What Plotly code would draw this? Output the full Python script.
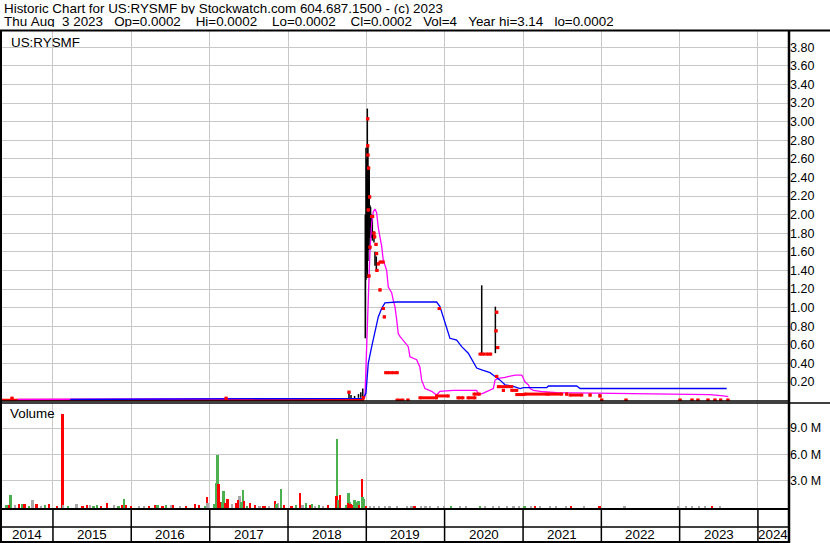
import plotly.graph_objects as go
import pandas as pd

# ---------------- data ----------------
# daily high/low bars (decimal year, high, low)
bar_year = [2017.209, 2018.779, 2018.805, 2018.850, 2018.900, 2018.930, 2018.955,
            2018.987, 2018.996, 2019.004, 2019.013, 2019.021, 2019.030, 2019.038,
            2019.047, 2019.055, 2019.064, 2019.077, 2019.098, 2019.111, 2019.128,
            2020.473, 2020.647, 2021.975]
bar_high = [0.03, 0.10, 0.06, 0.05, 0.07, 0.09, 0.13,
            2.00, 2.72, 2.60, 3.14, 2.75, 2.52, 2.50,
            2.10, 2.08, 2.00, 1.98, 1.82, 1.60, 1.55,
            1.24, 1.01, 0.07]
bar_low = [0.01, 0.02, 0.02, 0.02, 0.03, 0.03, 0.02,
           0.67, 1.30, 1.40, 1.32, 1.50, 1.62, 1.75,
           1.62, 1.75, 1.75, 1.72, 1.70, 1.45, 1.40,
           0.51, 0.51, 0.04]

# flat close before the 2019 run-up
flat_close_year = [2014.349, 2018.970]
flat_close_value = 0.006

# closes: (first year, last year, value) - equal years = single day
close_start = [2014.477, 2017.209, 2018.779, 2018.962,
               2019.018, 2019.018, 2019.021, 2019.030, 2019.043, 2019.025, 2019.069,
               2019.081, 2019.098, 2019.107, 2019.124, 2019.047, 2019.132, 2019.153,
               2019.175, 2019.136, 2019.034, 2019.175, 2019.217, 2019.230, 2019.247,
               2019.324, 2019.392, 2019.532, 2019.685, 2019.898, 2019.932, 2020.170,
               2020.298, 2020.375, 2020.451, 2020.537, 2020.664, 2020.655, 2020.677,
               2020.664, 2020.685, 2020.749, 2020.856, 2020.920, 2021.026, 2021.324,
               2021.557, 2021.600, 2021.856, 2021.983, 2022.005, 2022.315, 2023.005,
               2023.158, 2023.234, 2023.362, 2023.451, 2023.524, 2023.617]
close_end = [2014.477, 2017.209, 2018.779, 2018.962,
             2019.018, 2019.018, 2019.021, 2019.030, 2019.043, 2019.025, 2019.069,
             2019.081, 2019.098, 2019.107, 2019.124, 2019.047, 2019.132, 2019.153,
             2019.217, 2019.136, 2019.034, 2019.175, 2019.217, 2019.230, 2019.293,
             2019.396, 2019.468, 2019.532, 2019.898, 2020.047, 2019.932, 2020.234,
             2020.387, 2020.442, 2020.502, 2020.588, 2020.664, 2020.655, 2020.677,
             2020.664, 2020.856, 2020.749, 2020.920, 2021.004, 2021.303, 2021.494,
             2021.557, 2021.750, 2021.856, 2021.983, 2022.005, 2022.315, 2023.005,
             2023.158, 2023.234, 2023.362, 2023.451, 2023.524, 2023.617]
close_value = [0.025, 0.025, 0.09, 0.03,
               3.03, 2.74, 2.64, 2.50, 2.19, 2.05, 1.98,
               1.98, 1.80, 1.76, 1.68, 1.65, 1.58, 1.47,
               1.49, 1.40, 1.34, 1.19, 0.99, 0.90, 0.30,
               0.30, 0.005, 0.005, 0.03, 0.05, 0.99, 0.03,
               0.03, 0.07, 0.50, 0.50, 0.95, 0.75, 0.57,
               0.26, 0.15, 0.11, 0.11, 0.065, 0.07, 0.07,
               0.07, 0.06, 0.06, 0.05, 0.005, 0.005, 0.005,
               0.005, 0.005, 0.005, 0.005, 0.005, 0.005]

# short moving average (magenta)
pink_year = [2014.55, 2018.960, 2018.983, 2019.005, 2019.025, 2019.047, 2019.069, 2019.089,
             2019.111, 2019.132, 2019.153, 2019.175, 2019.196, 2019.217, 2019.260,
             2019.281, 2019.324, 2019.344, 2019.366, 2019.388, 2019.408, 2019.430,
             2019.472, 2019.536, 2019.558, 2019.643, 2019.685, 2019.707, 2019.749,
             2019.835, 2019.898, 2019.941, 2020.111, 2020.409, 2020.430, 2020.494,
             2020.621, 2020.643, 2020.685, 2020.770, 2020.898, 2020.984, 2021.026,
             2021.068, 2021.090, 2021.132, 2021.260, 2021.430, 2022.153, 2023.388,
             2023.557, 2023.621]
pink_value = [0.012, 0.025, 0.04, 0.62, 1.22, 1.62, 1.91, 2.03,
              2.06, 2.02, 1.86, 1.76, 1.66, 1.51, 1.40,
              1.22, 1.16, 1.08, 1.01, 0.87, 0.72, 0.69,
              0.65, 0.58, 0.47, 0.44, 0.36, 0.22, 0.13,
              0.10, 0.06, 0.10, 0.11, 0.11, 0.06, 0.08,
              0.13, 0.22, 0.24, 0.25, 0.275, 0.275, 0.20,
              0.17, 0.13, 0.11, 0.095, 0.085, 0.078, 0.064,
              0.05, 0.042]

# long moving average (blue)
blue_year = [2015.22, 2018.962, 2018.996, 2019.025, 2019.069, 2019.111, 2019.153,
             2019.196, 2019.238, 2019.388, 2019.898, 2019.941, 2019.983, 2020.026,
             2020.068, 2020.154, 2020.218, 2020.302, 2020.366, 2020.409, 2020.473,
             2020.537, 2020.579, 2020.643, 2020.707, 2020.770, 2020.856, 2020.962,
             2021.004, 2021.303, 2021.324, 2021.686, 2021.728, 2023.601]
blue_value = [0.012, 0.025, 0.08, 0.40, 0.58, 0.76, 0.90,
              0.99, 1.05, 1.06, 1.06, 1.01, 0.90, 0.79,
              0.67, 0.65, 0.58, 0.51, 0.42, 0.35, 0.33,
              0.31, 0.30, 0.26, 0.22, 0.17, 0.157, 0.13,
              0.14, 0.14, 0.157, 0.157, 0.13, 0.13]

# volume (decimal year, millions of shares, u=up d=down f=unchanged), 8 per row
vol_year = [2014.409, 2014.440, 2014.460, 2014.515, 2014.570, 2014.613, 2014.639, 2014.700,
            2014.741, 2014.792, 2014.850, 2014.898, 2014.953, 2015.050, 2015.124, 2015.131,
            2015.200, 2015.303, 2015.380, 2015.438, 2015.472, 2015.520, 2015.566, 2015.620,
            2015.698, 2015.783, 2015.840, 2015.881, 2015.915, 2015.932, 2016.000, 2016.100,
            2016.162, 2016.230, 2016.302, 2016.337, 2016.400, 2016.443, 2016.515, 2016.536,
            2016.620, 2016.700, 2016.813, 2016.868, 2016.941, 2016.966, 2016.975, 2017.055,
            2017.090, 2017.103, 2017.115, 2017.141, 2017.161, 2017.179, 2017.205, 2017.230,
            2017.289, 2017.345, 2017.362, 2017.384, 2017.400, 2017.426, 2017.442, 2017.480,
            2017.515, 2017.579, 2017.640, 2017.685, 2017.707, 2017.760, 2017.834, 2017.856,
            2017.876, 2017.911, 2017.949, 2018.047, 2018.102, 2018.153, 2018.188, 2018.230,
            2018.281, 2018.307, 2018.345, 2018.396, 2018.450, 2018.511, 2018.622, 2018.626,
            2018.638, 2018.664, 2018.741, 2018.770, 2018.775, 2018.788, 2018.801, 2018.817,
            2018.852, 2018.872, 2018.903, 2018.910, 2018.945, 2018.954, 2018.970, 2018.996,
            2019.05, 2019.10, 2019.17, 2019.24, 2019.30, 2019.40, 2019.52, 2019.58,
            2019.62, 2019.70, 2019.76, 2019.82, 2019.92, 2020.00, 2020.08, 2020.20,
            2020.28, 2020.45, 2020.52, 2020.62, 2020.70, 2020.80, 2020.88, 2020.95,
            2021.02, 2021.10, 2021.16, 2021.22, 2021.35, 2021.42, 2021.55, 2021.62,
            2021.78, 2021.98, 2022.30, 2022.98, 2023.08, 2023.16, 2023.25, 2023.33,
            2023.42, 2023.52]
vol_m = [0.20, 0.15, 1.32, 0.12, 0.25, 0.32, 0.25, 0.10,
         0.75, 0.28, 0.08, 0.17, 0.28, 0.06, 10.6, 0.12,
         0.06, 0.28, 0.08, 0.12, 0.12, 0.08, 0.22, 0.08,
         0.35, 0.12, 0.06, 0.18, 0.86, 0.15, 0.08, 0.05,
         0.08, 0.06, 0.12, 0.22, 0.06, 0.12, 0.22, 0.12,
         0.06, 0.08, 0.25, 0.12, 0.10, 1.09, 0.45, 0.31,
         2.70, 5.91, 2.58, 0.55, 0.50, 1.78, 0.40, 0.86,
         0.31, 0.45, 0.78, 1.20, 0.50, 1.85, 0.60, 0.10,
         0.40, 0.12, 0.06, 0.10, 0.08, 0.06, 0.63, 0.25,
         0.40, 2.00, 0.12, 0.10, 0.20, 1.55, 0.20, 0.40,
         0.20, 0.28, 0.10, 0.12, 0.06, 0.12, 1.17, 7.74,
         0.75, 1.29, 0.20, 0.40, 1.55, 0.55, 0.30, 0.12,
         0.75, 0.50, 0.63, 0.12, 3.15, 1.09, 0.86, 0.06,
         0.06, 0.05, 0.06, 0.05, 0.06, 0.05, 0.06, 0.05,
         0.06, 0.05, 0.06, 0.05, 0.06, 0.05, 0.06, 0.05,
         0.06, 0.05, 0.06, 0.05, 0.06, 0.05, 0.06, 0.05,
         0.06, 0.05, 0.06, 0.05, 0.06, 0.05, 0.06, 0.05,
         0.06, 0.05, 0.05, 0.05, 0.06, 0.05, 0.06, 0.05,
         0.06, 0.05]
vol_dir = list("uduf" "dudu" "fdfu" "dddf"
               "ufdd" "fuud" "dfud" "uddf"
               "fddu" "dufd" "fddd" "udfu"
               "uudd" "uudd" "fddf" "uudu"
               "ddfd" "dfdu" "fudd" "udfu"
               "dufu" "fddu" "udud" "uudd"
               "uuud" "duud" "ffff" "ffff"
               "dfff" "ffuf" "fuff" "ffff"
               "ufdf" "fffd" "fdff" "ffff"
               "df")

price_ticks = [0.20, 0.40, 0.60, 0.80, 1.00, 1.20, 1.40, 1.60, 1.80, 2.00,
               2.20, 2.40, 2.60, 2.80, 3.00, 3.20, 3.40, 3.60, 3.80]
vol_ticks = [3e6, 6e6, 9e6]
vol_tick_text = ["3.0 M", "6.0 M", "9.0 M"]
years = list(range(2014, 2025))

header1 = "Historic Chart for US:RYSMF by Stockwatch.com 604.687.1500 - (c) 2023"
header2 = ("Thu Aug  3 2023   Op=0.0002    Hi=0.0002    Lo=0.0002    Cl=0.0002   "
           "Vol=4   Year hi=3.14   lo=0.0002").replace(" ", "\u00a0")

# ---------------- helpers ----------------
W, H = 830, 543
ML, MR, MT, MB = 2, 41, 30, 34
PW, PH = W - ML - MR, H - MT - MB
FONT = "Liberation Sans, Arial, sans-serif"
GRID = "#c8c8c8"


def px(x):
    return (x - ML) / PW


def py(y):
    return (H - MB - y) / PH


def to_date(y):
    yr = int(y)
    start = pd.Timestamp(yr, 1, 1)
    return start + (pd.Timestamp(yr + 1, 1, 1) - start) * (y - yr)


x_lo, x_hi = to_date(2014.349), to_date(2024.396)
vol_floor = -0.29e6

fig = go.Figure()

# high-low bars
bx, by = [], []
for yv, h, l in zip(bar_year, bar_high, bar_low):
    d = to_date(yv)
    bx += [d, d, None]
    by += [l, h, None]
fig.add_trace(go.Scatter(x=bx, y=by, mode="lines", line=dict(color="black", width=1.5),
                         hoverinfo="skip", showlegend=False))

# flat close at start
fig.add_trace(go.Scatter(x=[to_date(v) for v in flat_close_year],
                         y=[flat_close_value] * len(flat_close_year),
                         mode="lines", line=dict(color="#ff0000", width=2.5),
                         showlegend=False, hoverinfo="skip"))

# moving averages
fig.add_trace(go.Scatter(x=[to_date(v) for v in pink_year], y=pink_value, mode="lines",
                         line=dict(color="#ff00ff", width=1.3), showlegend=False))
fig.add_trace(go.Scatter(x=[to_date(v) for v in blue_year], y=blue_value, mode="lines",
                         line=dict(color="#0000ff", width=1.3), showlegend=False))

# closes
cx, cy = [], []
for s, e, v in zip(close_start, close_end, close_value):
    cx += [to_date(s), to_date(e), None]
    cy += [v, v, None]
fig.add_trace(go.Scatter(x=cx, y=cy, mode="lines+markers",
                         line=dict(color="#ff0000", width=3),
                         marker=dict(color="#ff0000", size=3, symbol="square"),
                         showlegend=False))

# volume - tallest first so that short bars stay visible on top
dir_color = {"u": "#4cb050", "d": "#ff0000", "f": "#a8a8a8"}
vol_rows = sorted(zip(vol_year, vol_m, vol_dir), key=lambda r: -r[1])
fig.add_trace(go.Bar(x=[to_date(r[0]) for r in vol_rows],
                     y=[r[1] * 1e6 - vol_floor for r in vol_rows], base=vol_floor,
                     marker=dict(color=[dir_color[r[2]] for r in vol_rows], line=dict(width=0)),
                     width=8 * 86400000, xaxis="x2", yaxis="y2", showlegend=False))

main_lo = py(401)
vol_hi = py(403)
axis_font = dict(family=FONT, size=12.5, color="black")

fig.update_layout(
    width=W, height=H,
    margin=dict(l=ML, r=MR, t=MT, b=MB, autoexpand=False),
    paper_bgcolor="white", plot_bgcolor="white",
    barmode="overlay", bargap=0,
    xaxis=dict(type="date", range=[x_lo, x_hi], domain=[0, 1], anchor="y", automargin=False,
               showticklabels=False, ticks="", showgrid=True, gridcolor=GRID, gridwidth=1,
               tick0="2015-01-01", dtick="M12", zeroline=False, showline=False),
    xaxis2=dict(type="date", matches="x", range=[x_lo, x_hi], domain=[0, 1], anchor="y2",
                automargin=False, showticklabels=False, ticks="", showgrid=True,
                gridcolor=GRID, gridwidth=1, tick0="2015-01-01", dtick="M12",
                zeroline=False, showline=False),
    yaxis=dict(domain=[main_lo, 1], range=[-0.0043, 3.985], side="right", automargin=False,
               tickvals=price_ticks, tickformat=".2f", ticks="", showgrid=True,
               gridcolor=GRID, zeroline=False, showline=False, tickfont=axis_font),
    yaxis2=dict(domain=[0, vol_hi], range=[vol_floor, 11.87e6], side="right", automargin=False,
                tickvals=vol_ticks, ticktext=vol_tick_text, ticks="", showgrid=True,
                gridcolor=GRID, zeroline=False, showline=False, tickfont=axis_font),
    font=dict(family=FONT, size=13, color="black"),
)

# frame lines (pixel layout)
frame = [
    (0, 30.5, W, 30.5, 2), (1, 30, 1, H, 2), (789, 30, 789, H, 2.5),
    (0, 401, 789, 401, 1.5), (0, 403, W, 403, 1.5),
    (0, 509, 789, 509, 2), (0, 527, 789, 527, 1.5), (0, 542, 789, 542, 2),
]
for x0, y0, x1, y1, w in frame:
    fig.add_shape(type="line", xref="paper", yref="paper",
                  x0=px(x0), y0=py(y0), x1=px(x1), y1=py(y1),
                  line=dict(color="black", width=w), layer="above")

# year boxes under the volume panel
for yr in years[1:]:
    d = pd.Timestamp(yr, 1, 1)
    fig.add_shape(type="line", xref="x", yref="paper", x0=d, x1=d,
                  y0=py(509), y1=py(542), line=dict(color="black", width=1.5))
for yr in years:
    a = max(pd.Timestamp(yr, 1, 1), x_lo)
    b = min(pd.Timestamp(yr + 1, 1, 1), x_hi)
    fig.add_annotation(x=a + (b - a) / 2, y=py(534.5), xref="x", yref="paper",
                       text=str(yr), showarrow=False, xanchor="center", yanchor="middle",
                       height=13, font=dict(family=FONT, size=13.4, color="black"))

# texts
texts = [(header1, 2, 8.5), (header2, 2, 21.5), ("US:RYSMF", 9, 42), ("Volume", 8, 413)]
for t, x, y in texts:
    fig.add_annotation(text=t, x=px(x), y=py(y), xref="paper", yref="paper",
                       showarrow=False, xanchor="left", yanchor="middle", height=12,
                       font=dict(family=FONT, size=13.4, color="black"))

fig.write_html("out.html", config={"displayModeBar": False},
               post_script="document.body.style.margin = '0';")
